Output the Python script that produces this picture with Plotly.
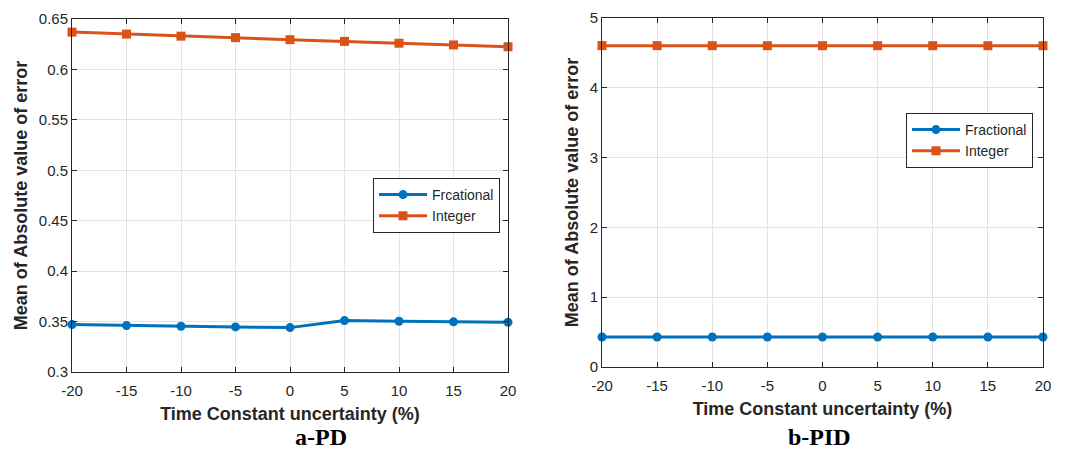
import plotly.graph_objects as go

x_vals = [-20, -15, -10, -5, 0, 5, 10, 15, 20]
x_ticktext = ["-20", "-15", "-10", "-5", "0", "5", "10", "15", "20"]
pd_fractional = [0.347, 0.346, 0.3454, 0.3447, 0.344, 0.351, 0.3503, 0.3497, 0.3493]
pd_integer = [0.637, 0.635, 0.633, 0.6315, 0.6295, 0.6278, 0.626, 0.6243, 0.6225]
pd_yticks = [0.3, 0.35, 0.4, 0.45, 0.5, 0.55, 0.6, 0.65]
pd_yticktext = ["0.3", "0.35", "0.4", "0.45", "0.5", "0.55", "0.6", "0.65"]
pid_fractional = [0.43, 0.43, 0.43, 0.43, 0.43, 0.43, 0.43, 0.43, 0.43]
pid_integer = [4.604, 4.604, 4.603, 4.603, 4.603, 4.603, 4.603, 4.603, 4.603]
pid_yticks = [0, 1, 2, 3, 4, 5]

BLUE = "#0072BD"
ORANGE = "#D95319"
FONT = "Liberation Sans, Arial, sans-serif"
TXT = "#262626"

fig = go.Figure()

def add_series(x, y, name, color, symbol, xa, ya, legend):
    fig.add_trace(go.Scatter(
        x=x, y=y, name=name, mode="lines+markers",
        line=dict(color=color, width=3),
        marker=dict(color=color, symbol=symbol, size=9),
        xaxis=xa, yaxis=ya, legend=legend, cliponaxis=False))

add_series(x_vals, pd_fractional, "Frcational", BLUE, "circle", "x", "y", "legend")
add_series(x_vals, pd_integer, "Integer", ORANGE, "square", "x", "y", "legend")
add_series(x_vals, pid_fractional, "Fractional", BLUE, "circle", "x2", "y2", "legend2")
add_series(x_vals, pid_integer, "Integer", ORANGE, "square", "x2", "y2", "legend2")

common_axis = dict(
    showline=True, linecolor=TXT, linewidth=1, mirror="ticks",
    ticks="inside", ticklen=5, tickcolor=TXT,
    showgrid=True, gridcolor="#e3e3e3", gridwidth=1,
    zeroline=False, automargin=False,
    tickfont=dict(family=FONT, size=15, color=TXT),
)
xtitle = dict(text="<b>Time Constant uncertainty (%)</b>",
              font=dict(family=FONT, size=18, color=TXT), standoff=9)
ytitle = dict(text="<b>Mean of Absolute value of error</b>",
              font=dict(family=FONT, size=18, color=TXT), standoff=6)

legend_common = dict(xanchor="left", yanchor="top",
                     bgcolor="white", bordercolor="#262626", borderwidth=1,
                     font=dict(family=FONT, size=14, color=TXT),
                     tracegroupgap=0, itemwidth=48)

fig.update_layout(
    width=1067, height=450,
    margin=dict(l=0, r=0, t=0, b=0),
    paper_bgcolor="white", plot_bgcolor="white",
    xaxis=dict(common_axis, domain=[72 / 1067, 508 / 1067], range=[-20, 20],
               tickvals=x_vals, ticktext=x_ticktext, ticklabelstandoff=5,
               title=xtitle, anchor="y"),
    yaxis=dict(common_axis, domain=[1 - 372 / 450, 1 - 19 / 450], range=[0.3, 0.65],
               tickvals=pd_yticks, ticktext=pd_yticktext,
               title=ytitle, anchor="x"),
    xaxis2=dict(common_axis, domain=[602 / 1067, 1043 / 1067], range=[-20, 20],
                tickvals=x_vals, ticktext=x_ticktext, ticklabelstandoff=5,
                title=xtitle, anchor="y2"),
    yaxis2=dict(common_axis, domain=[1 - 367 / 450, 1 - 18 / 450], range=[0, 5],
                tickvals=pid_yticks, title=ytitle, anchor="x2"),
    legend=dict(legend_common, x=373 / 1067, y=1 - 178 / 450),
    legend2=dict(legend_common, x=906 / 1067, y=1 - 113 / 450),
    showlegend=True,
    annotations=[
        dict(text="<b>a-PD</b>", x=293 / 1067, y=1 - 452 / 450, xref="paper", yref="paper",
             showarrow=False, font=dict(family="Liberation Serif, Times New Roman, serif", size=24, color="black")),
        dict(text="<b>b-PID</b>", x=853 / 1067, y=1 - 452 / 450, xref="paper", yref="paper",
             showarrow=False, font=dict(family="Liberation Serif, Times New Roman, serif", size=24, color="black")),
    ],
)

fig.write_html("out.html")
